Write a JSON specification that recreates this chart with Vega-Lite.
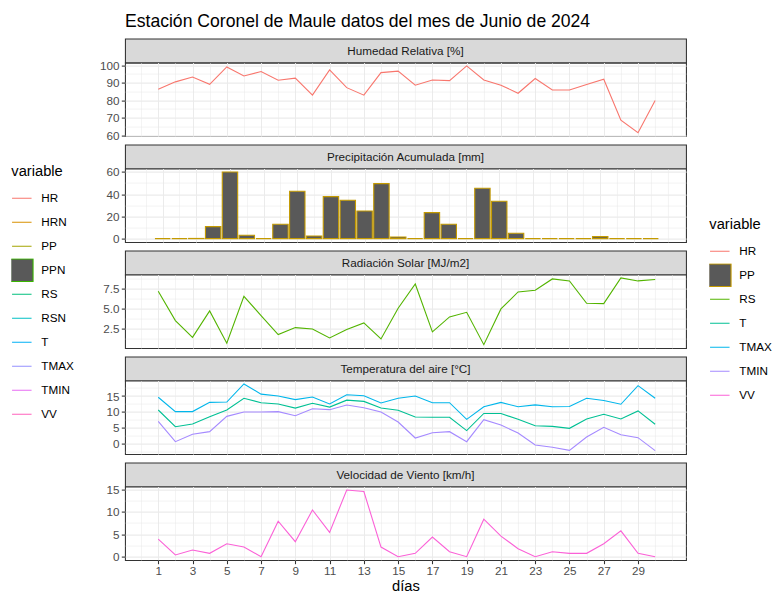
{
  "$schema": "https://vega.github.io/schema/vega-lite/v6.json",
  "padding": {"left": 11, "top": 12.6, "right": 0, "bottom": 0},
  "title": {"text": "Estación Coronel de Maule datos del mes de Junio de 2024", "anchor": "start", "frame": "group", "fontSize": 17.6, "fontWeight": "normal", "color": "black", "baseline": "alphabetic", "offset": -7},
  "data": {"values": [
    {"dia": 1, "HR": 86.3, "PP": 0, "RS": 7.2, "T": 10.6, "TMAX": 14.6, "TMIN": 7.0, "VV": 3.9},
    {"dia": 2, "HR": 90.5, "PP": 0, "RS": 3.54, "T": 5.35, "TMAX": 10.1, "TMIN": 0.63, "VV": 0.37},
    {"dia": 3, "HR": 93.3, "PP": 0.2, "RS": 1.46, "T": 6.2, "TMAX": 10.1, "TMIN": 2.94, "VV": 1.48},
    {"dia": 4, "HR": 89.1, "PP": 10.8, "RS": 4.75, "T": 8.5, "TMAX": 13.0, "TMIN": 3.78, "VV": 0.74},
    {"dia": 5, "HR": 99.0, "PP": 60.0, "RS": 0.71, "T": 10.6, "TMAX": 13.1, "TMIN": 8.6, "VV": 2.88},
    {"dia": 6, "HR": 93.9, "PP": 3.0, "RS": 6.58, "T": 14.3, "TMAX": 18.8, "TMIN": 9.97, "VV": 2.14},
    {"dia": 7, "HR": 96.4, "PP": 0, "RS": 4.17, "T": 12.9, "TMAX": 15.6, "TMIN": 9.97, "VV": 0},
    {"dia": 8, "HR": 91.4, "PP": 12.9, "RS": 1.79, "T": 12.5, "TMAX": 15.0, "TMIN": 10.07, "VV": 7.9},
    {"dia": 9, "HR": 92.6, "PP": 42.6, "RS": 2.67, "T": 11.2, "TMAX": 13.85, "TMIN": 8.8, "VV": 3.33},
    {"dia": 10, "HR": 82.9, "PP": 2.4, "RS": 2.5, "T": 12.7, "TMAX": 14.7, "TMIN": 11.0, "VV": 10.4},
    {"dia": 11, "HR": 97.3, "PP": 37.8, "RS": 1.38, "T": 11.5, "TMAX": 12.5, "TMIN": 10.7, "VV": 5.4},
    {"dia": 12, "HR": 87.2, "PP": 34.5, "RS": 2.42, "T": 13.7, "TMAX": 15.4, "TMIN": 12.17, "VV": 14.85},
    {"dia": 13, "HR": 82.9, "PP": 24.9, "RS": 3.25, "T": 13.3, "TMAX": 15.1, "TMIN": 11.3, "VV": 14.5},
    {"dia": 14, "HR": 95.8, "PP": 49.5, "RS": 1.25, "T": 11.2, "TMAX": 12.8, "TMIN": 9.97, "VV": 2.14},
    {"dia": 15, "HR": 96.6, "PP": 1.5, "RS": 5.08, "T": 10.5, "TMAX": 14.3, "TMIN": 6.8, "VV": 0},
    {"dia": 16, "HR": 88.6, "PP": 0, "RS": 8.12, "T": 8.4, "TMAX": 15.0, "TMIN": 1.78, "VV": 0.74},
    {"dia": 17, "HR": 91.6, "PP": 23.4, "RS": 2.13, "T": 8.3, "TMAX": 12.9, "TMIN": 3.46, "VV": 4.36},
    {"dia": 18, "HR": 91.2, "PP": 12.9, "RS": 4.0, "T": 8.3, "TMAX": 12.9, "TMIN": 3.78, "VV": 1.1},
    {"dia": 19, "HR": 99.6, "PP": 0, "RS": 4.58, "T": 4.1, "TMAX": 7.66, "TMIN": 0.63, "VV": 0},
    {"dia": 20, "HR": 91.6, "PP": 45.3, "RS": 0.54, "T": 9.5, "TMAX": 11.6, "TMIN": 7.55, "VV": 8.35},
    {"dia": 21, "HR": 88.6, "PP": 33.6, "RS": 5.0, "T": 9.5, "TMAX": 13.0, "TMIN": 5.87, "VV": 4.58},
    {"dia": 22, "HR": 84.0, "PP": 4.8, "RS": 7.12, "T": 7.66, "TMAX": 11.6, "TMIN": 3.36, "VV": 1.77},
    {"dia": 23, "HR": 92.4, "PP": 0, "RS": 7.33, "T": 5.66, "TMAX": 12.2, "TMIN": -0.42, "VV": 0},
    {"dia": 24, "HR": 85.9, "PP": 0, "RS": 8.75, "T": 5.45, "TMAX": 11.6, "TMIN": -1.15, "VV": 1.1},
    {"dia": 25, "HR": 85.9, "PP": 0, "RS": 8.5, "T": 4.83, "TMAX": 11.7, "TMIN": -2.1, "VV": 0.74},
    {"dia": 26, "HR": 89.0, "PP": 0, "RS": 5.71, "T": 7.76, "TMAX": 14.3, "TMIN": 2.1, "VV": 0.74},
    {"dia": 27, "HR": 92.0, "PP": 1.8, "RS": 5.67, "T": 9.23, "TMAX": 13.6, "TMIN": 5.14, "VV": 2.88},
    {"dia": 28, "HR": 68.6, "PP": 0, "RS": 8.87, "T": 7.76, "TMAX": 12.4, "TMIN": 2.83, "VV": 5.76},
    {"dia": 29, "HR": 61.5, "PP": 0, "RS": 8.5, "T": 10.3, "TMAX": 18.25, "TMIN": 1.89, "VV": 0.74},
    {"dia": 30, "HR": 79.8, "PP": 0, "RS": 8.67, "T": 6.1, "TMAX": 14.3, "TMIN": -2.2, "VV": 0}
  ]},
  "transform": [{"fold": ["HR", "PP", "RS", "T", "TMAX", "TMIN", "VV"], "as": ["variable", "valor"]}],
  "spacing": 0,
  "bounds": "flush",
  "resolve": {"scale": {"x": "independent", "y": "independent", "stroke": "shared", "color": "shared"}, "legend": {"stroke": "shared", "color": "shared"}},
  "vconcat": [
    {"width": 561, "height": 24, "data": {"values": [{"etiqueta": "Humedad Relativa [%]"}]}, "mark": {"type": "text", "fontSize": 11.7, "color": "#1A1A1A"}, "encoding": {"text": {"field": "etiqueta"}}, "view": {"fill": "#D9D9D9", "stroke": "#333333", "strokeWidth": 1.07}},
    {"width": 561, "height": 73.4,
     "layer": [
      {"transform": [{"filter": "datum.variable === 'HR'"}],
       "mark": {"type": "line", "strokeWidth": 1.1},
       "encoding": {
         "x": {"field": "dia", "type": "quantitative", "scale": {"domain": [-0.94, 31.8], "nice": false, "zero": false},
               "axis": {"values": [0,1,2,3,4,5,6,7,8,9,10,11,12,13,14,15,16,17,18,19,20,21,22,23,24,25,26,27,28,29,30,31], "labels": false, "ticks": false, "title": null, "gridWidth": {"condition": {"test": "datum.value % 2 === 1 && datum.value < 30", "value": 1.07}, "value": 0.53}}},
         "y": {"field": "valor", "type": "quantitative", "scale": {"domain": [59.6, 101.5], "nice": false, "zero": false},
               "axis": {"values": [60,65,70,75,80,85,90,95,100], "title": null, "labelExpr": "datum.value % 10 === 0 ? datum.label : ''", "tickOpacity": {"condition": {"test": "datum.value % 10 === 0", "value": 1}, "value": 0}, "gridWidth": {"condition": {"test": "datum.value % 10 === 0", "value": 1.07}, "value": 0.53}}},
         "stroke": {"field": "variable", "type": "nominal",
           "scale": {"domain": ["HR", "PP", "RS", "T", "TMAX", "TMIN", "VV"], "range": ["#F8766D", "#C49A00", "#53B400", "#00C094", "#00B6EB", "#A58AFF", "#FB61D7"]},
           "legend": {"title": "variable", "orient": "none", "legendX": 584.3, "legendY": 178.5, "direction": "vertical", "symbolType": "stroke", "symbolSize": 506, "symbolStrokeWidth": 1.1, "symbolOpacity": 1, "rowPadding": 0, "clipHeight": 24, "labelOffset": 9, "titlePadding": 7.5,
             "encode": {"symbols": {"update": {
               "shape": {"signal": "datum.value === 'PP' ? 'square' : 'stroke'"},
               "size": {"signal": "datum.value === 'PP' ? 506 : 380"},
               "fill": {"signal": "datum.value === 'PP' ? '#595959' : 'transparent'"},
               "strokeWidth": {"value": 1.1},
               "opacity": {"value": 1}}}}}}
       }},
      {"transform": [{"filter": "false"}],
       "mark": {"type": "line", "strokeWidth": 1.1},
       "encoding": {
         "color": {"field": "variable", "type": "nominal",
           "scale": {"domain": ["HR", "HRN", "PP", "PPN", "RS", "RSN", "T", "TMAX", "TMIN", "VV"], "range": ["#F8766D", "#D89000", "#A3A500", "#39B600", "#00BF7D", "#00BFC4", "#00B0F6", "#9590FF", "#E76BF3", "#FF62BC"]},
           "legend": {"title": "variable", "orient": "none", "legendX": -113.7, "legendY": 125.5, "direction": "vertical", "symbolType": "stroke", "symbolSize": 506, "symbolStrokeWidth": 1.1, "symbolOpacity": 1, "rowPadding": 0, "clipHeight": 24, "labelOffset": 9, "titlePadding": 7.5,
             "encode": {"symbols": {"update": {
               "shape": {"signal": "datum.value === 'PPN' ? 'square' : 'stroke'"},
               "size": {"signal": "datum.value === 'PPN' ? 506 : 380"},
               "fill": {"signal": "datum.value === 'PPN' ? '#595959' : 'transparent'"},
               "strokeWidth": {"value": 1.1},
               "opacity": {"value": 1}}}}}}
       }}
     ]},
    {"width": 561, "height": 7.9, "data": {"values": []}, "mark": "point", "view": {"stroke": null, "fill": null}},
    {"width": 561, "height": 24, "data": {"values": [{"etiqueta": "Precipitación Acumulada [mm]"}]}, "mark": {"type": "text", "fontSize": 11.7, "color": "#1A1A1A"}, "encoding": {"text": {"field": "etiqueta"}}, "view": {"fill": "#D9D9D9", "stroke": "#333333", "strokeWidth": 1.07}},
    {"width": 561, "height": 73.4,
     "transform": [{"filter": "datum.variable === 'PP'"}],
     "mark": {"type": "bar", "orient": "vertical", "width": 15.4, "fill": "#595959", "strokeWidth": 1.1},
     "encoding": {
       "x": {"field": "dia", "type": "quantitative", "scale": {"domain": [-0.94, 31.8], "nice": false, "zero": false},
             "axis": {"values": [0,1,2,3,4,5,6,7,8,9,10,11,12,13,14,15,16,17,18,19,20,21,22,23,24,25,26,27,28,29,30,31], "labels": false, "ticks": false, "title": null, "gridWidth": {"condition": {"test": "datum.value % 2 === 1 && datum.value < 30", "value": 1.07}, "value": 0.53}}},
       "y": {"field": "valor", "type": "quantitative", "scale": {"domain": [-3, 63], "nice": false, "zero": false},
             "axis": {"values": [0,10,20,30,40,50,60], "title": null, "labelExpr": "datum.value % 20 === 0 ? datum.label : ''", "tickOpacity": {"condition": {"test": "datum.value % 20 === 0", "value": 1}, "value": 0}, "gridWidth": {"condition": {"test": "datum.value % 20 === 0", "value": 1.07}, "value": 0.53}}},
       "stroke": {"field": "variable", "type": "nominal", "scale": {"domain": ["HR", "PP", "RS", "T", "TMAX", "TMIN", "VV"], "range": ["#F8766D", "#C49A00", "#53B400", "#00C094", "#00B6EB", "#A58AFF", "#FB61D7"]}, "legend": null}
     }},
    {"width": 561, "height": 7.9, "data": {"values": []}, "mark": "point", "view": {"stroke": null, "fill": null}},
    {"width": 561, "height": 24, "data": {"values": [{"etiqueta": "Radiación Solar [MJ/m2]"}]}, "mark": {"type": "text", "fontSize": 11.7, "color": "#1A1A1A"}, "encoding": {"text": {"field": "etiqueta"}}, "view": {"fill": "#D9D9D9", "stroke": "#333333", "strokeWidth": 1.07}},
    {"width": 561, "height": 73.4,
     "transform": [{"filter": "datum.variable === 'RS'"}],
     "mark": {"type": "line", "strokeWidth": 1.1},
     "encoding": {
       "x": {"field": "dia", "type": "quantitative", "scale": {"domain": [-0.94, 31.8], "nice": false, "zero": false},
             "axis": {"values": [0,1,2,3,4,5,6,7,8,9,10,11,12,13,14,15,16,17,18,19,20,21,22,23,24,25,26,27,28,29,30,31], "labels": false, "ticks": false, "title": null, "gridWidth": {"condition": {"test": "datum.value % 2 === 1 && datum.value < 30", "value": 1.07}, "value": 0.53}}},
       "y": {"field": "valor", "type": "quantitative", "scale": {"domain": [0.12, 9.29], "nice": false, "zero": false},
             "axis": {"values": [1.25,2.5,3.75,5,6.25,7.5,8.75], "format": ".1f", "title": null, "labelExpr": "datum.value % 2.5 === 0 ? datum.label : ''", "tickOpacity": {"condition": {"test": "datum.value % 2.5 === 0", "value": 1}, "value": 0}, "gridWidth": {"condition": {"test": "datum.value % 2.5 === 0", "value": 1.07}, "value": 0.53}}},
       "stroke": {"field": "variable", "type": "nominal", "scale": {"domain": ["HR", "PP", "RS", "T", "TMAX", "TMIN", "VV"], "range": ["#F8766D", "#C49A00", "#53B400", "#00C094", "#00B6EB", "#A58AFF", "#FB61D7"]}, "legend": null}
     }},
    {"width": 561, "height": 7.9, "data": {"values": []}, "mark": "point", "view": {"stroke": null, "fill": null}},
    {"width": 561, "height": 24, "data": {"values": [{"etiqueta": "Temperatura del aire [°C]"}]}, "mark": {"type": "text", "fontSize": 11.7, "color": "#1A1A1A"}, "encoding": {"text": {"field": "etiqueta"}}, "view": {"fill": "#D9D9D9", "stroke": "#333333", "strokeWidth": 1.07}},
    {"width": 561, "height": 73.4,
     "transform": [{"filter": "datum.variable === 'T' || datum.variable === 'TMAX' || datum.variable === 'TMIN'"}],
     "mark": {"type": "line", "strokeWidth": 1.1},
     "encoding": {
       "x": {"field": "dia", "type": "quantitative", "scale": {"domain": [-0.94, 31.8], "nice": false, "zero": false},
             "axis": {"values": [0,1,2,3,4,5,6,7,8,9,10,11,12,13,14,15,16,17,18,19,20,21,22,23,24,25,26,27,28,29,30,31], "labels": false, "ticks": false, "title": null, "gridWidth": {"condition": {"test": "datum.value % 2 === 1 && datum.value < 30", "value": 1.07}, "value": 0.53}}},
       "y": {"field": "valor", "type": "quantitative", "scale": {"domain": [-3.25, 19.85], "nice": false, "zero": false},
             "axis": {"values": [-2.5,0,2.5,5,7.5,10,12.5,15,17.5], "title": null, "labelExpr": "datum.value % 5 === 0 ? datum.label : ''", "tickOpacity": {"condition": {"test": "datum.value % 5 === 0", "value": 1}, "value": 0}, "gridWidth": {"condition": {"test": "datum.value % 5 === 0", "value": 1.07}, "value": 0.53}}},
       "stroke": {"field": "variable", "type": "nominal", "scale": {"domain": ["HR", "PP", "RS", "T", "TMAX", "TMIN", "VV"], "range": ["#F8766D", "#C49A00", "#53B400", "#00C094", "#00B6EB", "#A58AFF", "#FB61D7"]}, "legend": null}
     }},
    {"width": 561, "height": 7.9, "data": {"values": []}, "mark": "point", "view": {"stroke": null, "fill": null}},
    {"width": 561, "height": 24, "data": {"values": [{"etiqueta": "Velocidad de Viento [km/h]"}]}, "mark": {"type": "text", "fontSize": 11.7, "color": "#1A1A1A"}, "encoding": {"text": {"field": "etiqueta"}}, "view": {"fill": "#D9D9D9", "stroke": "#333333", "strokeWidth": 1.07}},
    {"width": 561, "height": 73.4,
     "transform": [{"filter": "datum.variable === 'VV'"}],
     "mark": {"type": "line", "strokeWidth": 1.1},
     "encoding": {
       "x": {"field": "dia", "type": "quantitative", "scale": {"domain": [-0.94, 31.8], "nice": false, "zero": false},
             "axis": {"values": [0,1,2,3,4,5,6,7,8,9,10,11,12,13,14,15,16,17,18,19,20,21,22,23,24,25,26,27,28,29,30,31], "title": "días", "titlePadding": 1, "labelExpr": "datum.value % 2 === 1 && datum.value < 30 ? datum.label : ''", "tickOpacity": {"condition": {"test": "datum.value % 2 === 1 && datum.value < 30", "value": 1}, "value": 0}, "gridWidth": {"condition": {"test": "datum.value % 2 === 1 && datum.value < 30", "value": 1.07}, "value": 0.53}}},
       "y": {"field": "valor", "type": "quantitative", "scale": {"domain": [-0.74, 15.6], "nice": false, "zero": false},
             "axis": {"values": [0,2.5,5,7.5,10,12.5,15], "title": null, "labelExpr": "datum.value % 5 === 0 ? datum.label : ''", "tickOpacity": {"condition": {"test": "datum.value % 5 === 0", "value": 1}, "value": 0}, "gridWidth": {"condition": {"test": "datum.value % 5 === 0", "value": 1.07}, "value": 0.53}}},
       "stroke": {"field": "variable", "type": "nominal", "scale": {"domain": ["HR", "PP", "RS", "T", "TMAX", "TMIN", "VV"], "range": ["#F8766D", "#C49A00", "#53B400", "#00C094", "#00B6EB", "#A58AFF", "#FB61D7"]}, "legend": null}
     }}
  ],
  "config": {
    "font": "Liberation Sans",
    "view": {"stroke": "#333333", "strokeWidth": 1.07, "fill": "white"},
    "axis": {"domain": false, "tickColor": "#333333", "tickWidth": 1.07, "tickSize": 3.7, "labelColor": "#4D4D4D", "labelFontSize": 11.7, "labelPadding": 2.2, "labelOverlap": false, "labelFlush": false, "labelBound": false, "gridColor": "#EBEBEB", "titleFontWeight": "normal", "titleColor": "black", "titleFontSize": 14.7},
    "legend": {"padding": 0, "offset": 0, "titleFontSize": 14.7, "titleFontWeight": "normal", "titleColor": "black", "labelFontSize": 11.7, "labelColor": "black", "titleAnchor": "start"}
  }
}
